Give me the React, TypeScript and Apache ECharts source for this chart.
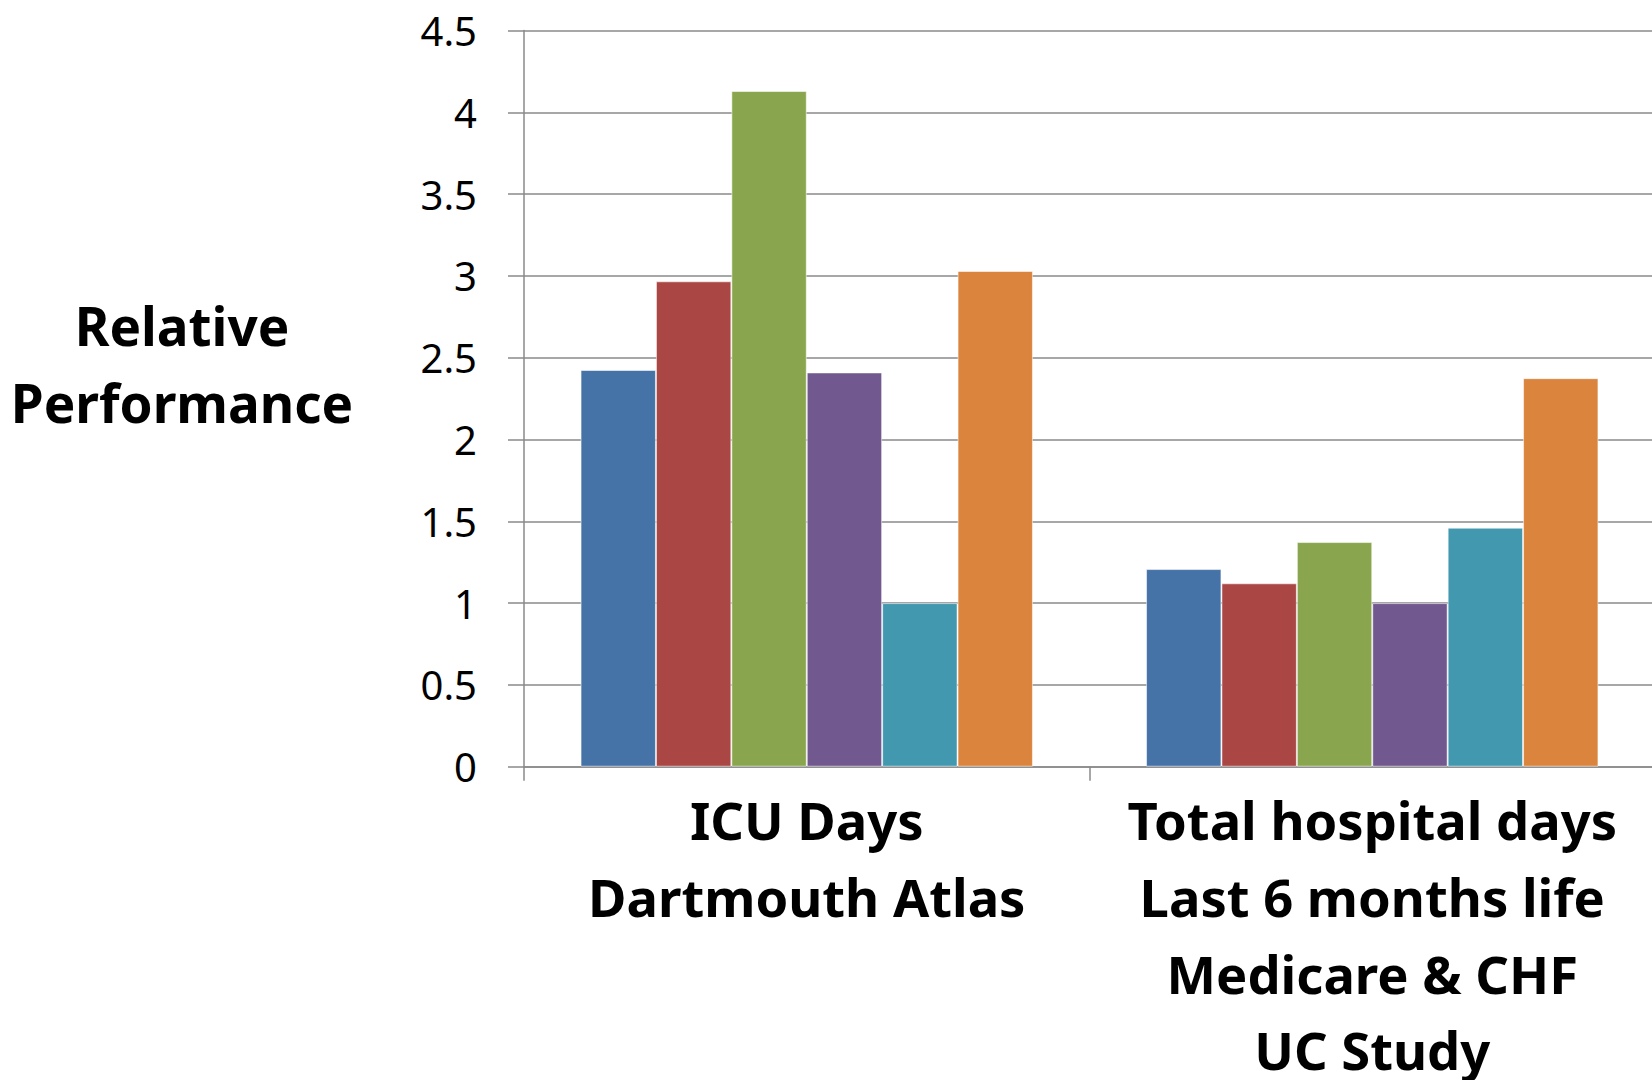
import React, { useEffect, useRef } from "react";
import * as echarts from "echarts";

// Category labels (multi-line) along the x axis
const categories: string[] = [
  "ICU Days\nDartmouth Atlas",
  "Total hospital days\nLast 6 months life\nMedicare & CHF\nUC Study",
];

// Six series, one value per category
const series1: number[] = [2.425, 1.208];
const series2: number[] = [2.967, 1.121];
const series3: number[] = [4.13, 1.373];
const series4: number[] = [2.41, 1.0];
const series5: number[] = [1.0, 1.461];
const series6: number[] = [3.03, 2.375];

const seriesNames: string[] = ["S1", "S2", "S3", "S4", "S5", "S6"];
const seriesValues: number[][] = [series1, series2, series3, series4, series5, series6];
const seriesColors: string[] = ["#4572A7", "#AA4643", "#89A54E", "#71588F", "#4198AF", "#DB843D"];

const yMin = 0;
const yMax = 4.5;
const yInterval = 0.5;

const axisGray = "#8a8a8a";

export default function App() {
  const ref = useRef<HTMLDivElement>(null);

  useEffect(() => {
    if (!ref.current) return;
    const chart = echarts.init(ref.current, undefined, { renderer: "svg" });
    chart.setOption({
      animation: false,
      backgroundColor: "#ffffff",
      grid: {
        left: 524,
        top: 30.5,
        width: 1131,
        height: 736.2,
        containLabel: false,
        outerBoundsMode: "none",
      },
      graphic: [
        {
          type: "text",
          x: 182,
          y: 364,
          style: {
            text: "Relative\nPerformance",
            font: "bold 53px 'Noto Sans', sans-serif",
            fill: "#000000",
            align: "center",
            verticalAlign: "middle",
            lineHeight: 77,
          },
        },
      ],
      xAxis: {
        type: "category",
        data: categories,
        axisLine: { show: true, lineStyle: { color: axisGray, width: 1.5 } },
        axisTick: {
          show: true,
          length: 14,
          alignWithLabel: false,
          lineStyle: { color: axisGray, width: 1.5 },
        },
        axisLabel: {
          color: "#000000",
          fontFamily: "'Noto Sans', sans-serif",
          fontWeight: "bold",
          fontSize: 52.5,
          lineHeight: 76.6,
          margin: 15,
          interval: 0,
        },
        splitLine: { show: false },
      },
      yAxis: {
        type: "value",
        min: yMin,
        max: yMax,
        interval: yInterval,
        axisLine: { show: true, lineStyle: { color: axisGray, width: 1.5 } },
        axisTick: { show: true, length: 16, lineStyle: { color: axisGray, width: 1.5 } },
        axisLabel: {
          color: "#000000",
          fontFamily: "'Noto Sans', sans-serif",
          fontSize: 40,
          margin: 47,
          formatter: (v: number) => String(v),
        },
        splitLine: { show: true, lineStyle: { color: axisGray, width: 1.5 } },
      },
      series: seriesValues.map((vals, i) => ({
        name: seriesNames[i],
        type: "bar",
        data: vals,
        barGap: "0%",
        barCategoryGap: "20%",
        itemStyle: {
          color: seriesColors[i],
          borderColor: "rgba(255,255,255,0.55)",
          borderWidth: 1,
        },
      })),
    });
    return () => chart.dispose();
  }, []);

  return (
    <div
      ref={ref}
      style={{ position: "absolute", left: 0, top: 0, width: 1652, height: 1080 }}
    />
  );
}
